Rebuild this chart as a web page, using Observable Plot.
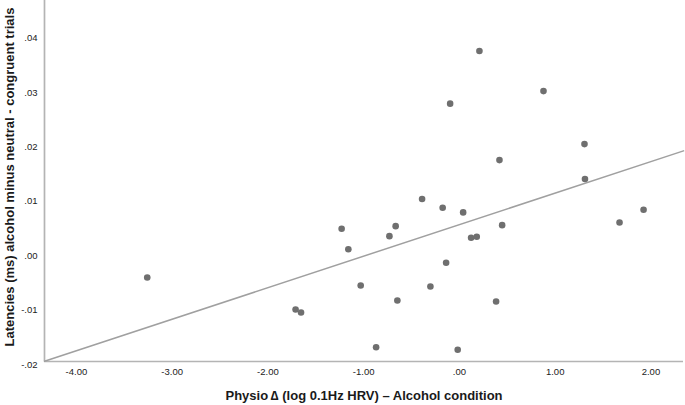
<!DOCTYPE html>
<html>
<head>
<meta charset="utf-8">
<script src="https://cdn.jsdelivr.net/npm/d3@7"></script>
<script src="https://cdn.jsdelivr.net/npm/@observablehq/plot@0.6"></script>
<style>
  html, body { margin: 0; padding: 0; background: #fff; }
  #chart svg { display: block; }
</style>
</head>
<body>
<div id="chart"></div>
<script>
// Physio Δ (log 0.1Hz HRV) – Alcohol condition
const physio = [-3.260, -1.711, -1.654, -1.230, -1.160, -1.031, -0.870, -0.731, -0.666, -0.648,
                -0.390, -0.303, -0.175, -0.139, -0.097, -0.018, 0.039, 0.122, 0.181, 0.209,
                0.383, 0.418, 0.446, 0.878, 1.306, 1.311, 1.672, 1.923];
// Latencies (ms) alcohol minus neutral - congruent trials
const latency = [-0.00455, -0.01044, -0.01099, 0.00442, 0.00066, -0.00602, -0.01738, 0.00306, 0.00490, -0.00878,
                 0.00990, -0.00620, 0.00828, -0.00184, 0.02743, -0.01785, 0.00742, 0.00276, 0.00294, 0.03711,
                 -0.00896, 0.01704, 0.00508, 0.02974, 0.01999, 0.01358, 0.00558, 0.00791];

const xTicks = [-4, -3, -2, -1, 0, 1, 2];
const yTicks = [-0.02, -0.01, 0, 0.01, 0.02, 0.03, 0.04];
const xDomain = [-4.333, 2.34];
const yDomain = [-0.02, 0.0464];
const xTitle = "Physio\u2009\u2206 (log 0.1Hz HRV) \u2013 Alcohol condition";
const yTitle = "Latencies (ms) alcohol minus neutral - congruent trials";

const points = physio.map((x, i) => ({x, y: latency[i]}));

// least-squares fit line, drawn across the whole x axis
const mx = d3.mean(physio), my = d3.mean(latency);
const slope = d3.sum(points, d => (d.x - mx) * (d.y - my)) / d3.sum(points, d => (d.x - mx) ** 2);
const intercept = my - slope * mx;
const fit = xDomain.map(x => ({x, y: intercept + slope * x}));

const fmt2 = d3.formatLocale({decimal: ".", thousands: ",", grouping: [3], currency: ["", ""], minus: "-"}).format(".2f");
const spss = d => fmt2(d).replace(/^(-?)0\./, "$1.");

const chart = Plot.plot({
  width: 685,
  height: 405,
  marginLeft: 44,
  marginRight: 2,
  marginTop: 0,
  marginBottom: 44,
  style: {fontFamily: "'Liberation Sans', Arial, sans-serif", fontSize: "9.5px", color: "#222", background: "#fff"},
  x: {domain: xDomain, label: null},
  y: {domain: yDomain, label: null},
  marks: [
    Plot.axisX({ticks: xTicks, tickFormat: spss, tickSize: 0, tickPadding: 7, fill: "#222"}),
    Plot.axisY({ticks: yTicks, tickFormat: spss, tickSize: 0, tickPadding: 7, dy: 3, fill: "#222"}),
    Plot.ruleX([xDomain[0]], {stroke: "#b4b4b4", strokeWidth: 1.7}),
    Plot.ruleY([yDomain[0]], {stroke: "#b4b4b4", strokeWidth: 1.7}),
    Plot.line(fit, {x: "x", y: "y", stroke: "#a0a0a0", strokeWidth: 1.5}),
    Plot.dot(points, {x: "x", y: "y", r: 3.3, fill: "#6f6f6f", stroke: "none"}),
    Plot.text([xTitle], {frameAnchor: "bottom", dy: 38, text: d => d, textAnchor: "middle", fontSize: 13, fontWeight: "bold", fill: "#1a1a1a"}),
    Plot.text([yTitle], {frameAnchor: "left", dx: -35, dy: -4, rotate: -90, text: d => d, textAnchor: "middle", fontSize: 13, fontWeight: "bold", fill: "#1a1a1a"})
  ]
});
document.getElementById("chart").appendChild(chart);
</script>
</body>
</html>
